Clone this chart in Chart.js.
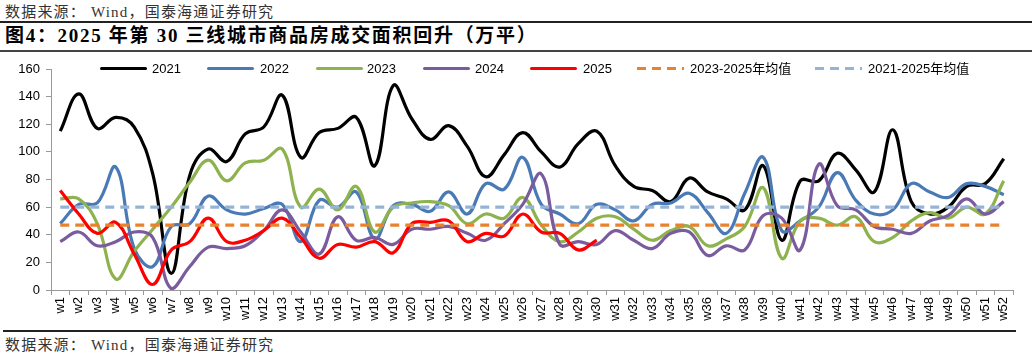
<!DOCTYPE html>
<html>
<head>
<meta charset="utf-8">
<script src="https://cdn.jsdelivr.net/npm/chart.js@4.4.1/dist/chart.umd.min.js"></script>
<style>
  html, body { margin: 0; padding: 0; background: #fff; }
  body { width: 1032px; height: 357px; position: relative; overflow: hidden; }
  .src { position: absolute; left: 5px; font-family: "Liberation Serif", "Noto Sans CJK SC", serif; font-size: 15px; letter-spacing: 1.2px; color: #333; white-space: nowrap; line-height: 18px; }
  .title { position: absolute; left: 5px; top: 25px; font-family: "Liberation Serif", "Noto Sans CJK SC", serif; font-weight: bold; font-size: 19px; letter-spacing: 1.7px; color: #000; white-space: nowrap; line-height: 22px; }
  .rule { position: absolute; background: #222; }
  #wrap { position: absolute; left: 0; top: 52px; width: 1032px; height: 278px; }
  .lg { position: absolute; top: 61px; height: 15px; font-family: "Liberation Sans", "Noto Sans CJK SC", sans-serif; font-size: 13px; line-height: 15px; color: #000; white-space: nowrap; }
  .sw { position: absolute; top: 67px; height: 3px; }
</style>
</head>
<body>
<div class="src" style="top:3px;">数据来源：&nbsp;Wind，国泰海通证券研究</div>
<div class="rule" style="left:0; top:21px; width:1032px; height:2px;"></div>
<div class="title">图4：2025 年第 30 三线城市商品房成交面积回升（万平）</div>
<div class="rule" style="left:0; top:50px; width:1032px; height:2px; background:#444;"></div>
<div id="wrap"><canvas id="c" width="1032" height="278"></canvas></div>
<div id="legend"></div>
<div class="rule" style="left:3px; top:330px; width:1013px; height:2px;"></div>
<div class="src" style="top:336px;">数据来源：&nbsp;Wind，国泰海通证券研究</div>

<script>
const weeks = ["w1","w2","w3","w4","w5","w6","w7","w8","w9","w10","w11","w12","w13","w14","w15","w16","w17","w18","w19","w20","w21","w22","w23","w24","w25","w26","w27","w28","w29","w30","w31","w32","w33","w34","w35","w36","w37","w38","w39","w40","w41","w42","w43","w44","w45","w46","w47","w48","w49","w50","w51","w52"];

const y2021 = [115,142,117,125,118,84,12,83,102,93,113,118,141,96,114,117,125,90,148,124,109,119,104,82,98,114,100,89,106,115,90,75,72,64,81,71,66,58,90,36,79,79,99,87,71,116,64,55,60,75,77,95];
const y2022 = [48,62,63,89,30,17,46,48,68,58,55,59,62,35,65,60,71,37,61,62,57,71,55,77,73,96,62,55,48,62,58,50,62,63,70,56,41,70,96,43,50,60,85,65,55,58,77,71,67,77,75,69];
const y2023 = [66,66,48,8,28,44,60,78,94,79,92,94,102,60,73,58,75,42,60,63,64,61,48,55,52,67,47,35,42,52,53,44,36,43,46,32,37,46,74,23,50,52,47,53,35,38,50,56,52,60,55,79];
const y2024 = [35,42,32,35,42,38,1,17,31,30,32,43,58,42,26,53,36,38,33,44,44,46,41,36,48,62,84,33,35,33,43,36,30,41,42,25,32,29,54,52,29,91,61,58,46,44,41,50,54,66,55,64];
const y2025 = [72,55,41,49,26,4,29,35,52,35,36,43,52,38,23,33,31,35,27,48,49,50,35,41,39,55,42,41,29,36,null,null,null,null,null,null,null,null,null,null,null,null,null,null,null,null,null,null,null,null,null,null];
const avg2325 = weeks.map(() => 47);
const avg2125 = weeks.map(() => 60);

const seriesNames = ["2021","2022","2023","2024","2025","2023-2025年均值","2021-2025年均值"];
const seriesColors = ["#000000","#4A7AB5","#8DB24E","#7A5C9E","#FF0000","#E8822E","#95B3D7"];

const datasets = [
  {label: seriesNames[0], data: y2021, borderColor: seriesColors[0], order: 7},
  {label: seriesNames[1], data: y2022, borderColor: seriesColors[1], order: 6},
  {label: seriesNames[2], data: y2023, borderColor: seriesColors[2], order: 5},
  {label: seriesNames[3], data: y2024, borderColor: seriesColors[3], order: 4},
  {label: seriesNames[4], data: y2025, borderColor: seriesColors[4], order: 3},
  {label: seriesNames[5], data: avg2325, borderColor: seriesColors[5], borderDash: [9,6], tension: 0, order: 2},
  {label: seriesNames[6], data: avg2125, borderColor: seriesColors[6], borderDash: [9,6], tension: 0, order: 1}
].map(d => Object.assign({borderWidth: 3.2, pointRadius: 0, pointHoverRadius: 0, fill: false, tension: 0.4, spanGaps: false}, d));

const tickFont = {family: "'Liberation Sans', Arial, sans-serif", size: 13};

new Chart(document.getElementById('c'), {
  type: 'line',
  data: {labels: weeks, datasets: datasets},
  options: {
    responsive: false,
    devicePixelRatio: 1,
    animation: false,
    layout: {padding: {top: 17, right: 19, left: 0, bottom: 0}},
    plugins: {legend: {display: false}, tooltip: {enabled: false}},
    scales: {
      x: {
        type: 'category',
        offset: true,
        grid: {display: true, drawOnChartArea: false, drawTicks: true, tickLength: 5, color: '#999', offset: true},
        border: {display: true, color: '#999', width: 1},
        ticks: {autoSkip: false, maxRotation: 90, minRotation: 90, font: tickFont, color: '#000', padding: 2},
        afterFit: s => { s.height = 40; }
      },
      y: {
        min: 0, max: 160,
        grid: {display: true, drawOnChartArea: false, drawTicks: true, tickLength: 5, color: '#999'},
        border: {display: true, color: '#999', width: 1},
        ticks: {stepSize: 20, font: tickFont, color: '#000', padding: 6},
        afterFit: s => { s.width = 51; }
      }
    }
  }
});

// HTML legend
const legendPos = [[100,152],[207,260],[316,367],[423,475],[530,583],[637,690],[815,868]];
const lg = document.getElementById('legend');
seriesNames.forEach((name, i) => {
  const sw = document.createElement('div');
  sw.className = 'sw';
  sw.style.left = legendPos[i][0] + 'px';
  sw.style.width = '47px';
  if (i >= 5) {
    sw.style.background = 'repeating-linear-gradient(to right,' + seriesColors[i] + ' 0 9px, transparent 9px 15px)';
  } else {
    sw.style.background = seriesColors[i];
    sw.style.borderRadius = '2px';
  }
  lg.appendChild(sw);
  const t = document.createElement('div');
  t.className = 'lg';
  t.style.left = legendPos[i][1] + 'px';
  t.textContent = name;
  lg.appendChild(t);
});
</script>
</body>
</html>
